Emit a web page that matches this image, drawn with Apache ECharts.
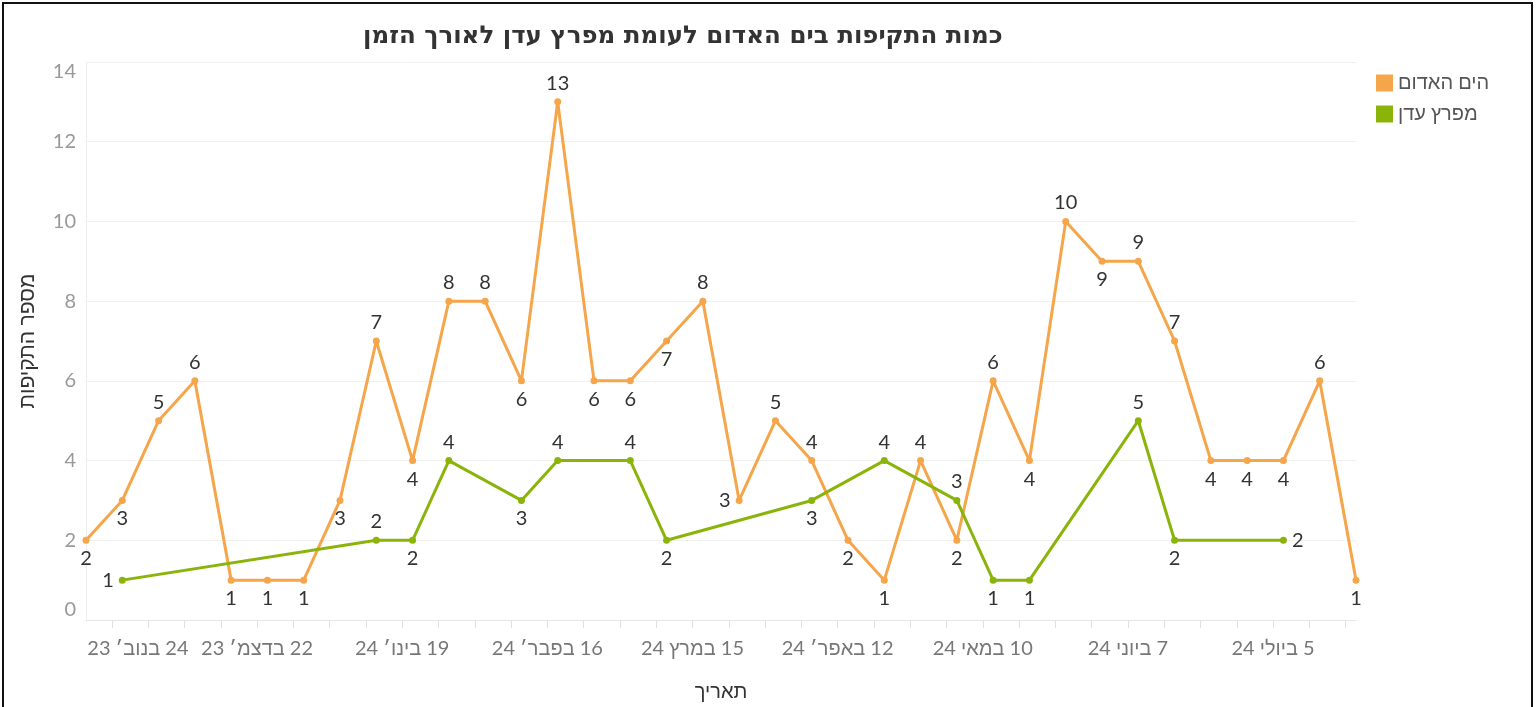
<!DOCTYPE html>
<html>
<head>
<meta charset="utf-8">
<script src="https://cdn.jsdelivr.net/npm/echarts@6/dist/echarts.min.js"></script>
<style>
  html, body { margin: 0; padding: 0; background: #fff; }
  #frame { position: absolute; left: 2px; top: 2px; width: 1531px; height: 720px; border: 2px solid #111; box-sizing: border-box; }
  #chart { position: absolute; left: 0; top: 0; width: 1537px; height: 707px; direction: rtl; }
</style>
</head>
<body>
<div id="chart"></div>
<div id="frame"></div>
<script>
// weekly buckets (week starts Sunday)
const weeks = [
  "2023-11-19", "2023-11-26", "2023-12-03", "2023-12-10", "2023-12-17", "2023-12-24",
  "2023-12-31", "2024-01-07", "2024-01-14", "2024-01-21", "2024-01-28", "2024-02-04",
  "2024-02-11", "2024-02-18", "2024-02-25", "2024-03-03", "2024-03-10", "2024-03-17",
  "2024-03-24", "2024-03-31", "2024-04-07", "2024-04-14", "2024-04-21", "2024-04-28",
  "2024-05-05", "2024-05-12", "2024-05-19", "2024-05-26", "2024-06-02", "2024-06-09",
  "2024-06-16", "2024-06-23", "2024-06-30", "2024-07-07", "2024-07-14", "2024-07-21",
]
const redSea = [2, 3, 5, 6, 1, 1, 1, 3, 7, 4, 8, 8, 6, 13, 6, 6, 7, 8, 3, 5, 4, 2, 1, 4, 2, 6, 4, 10, 9, 9, 7, 4, 4, 4, 6, 1]
const gulfAden = [null, 1, null, null, null, null, null, null, 2, 2, 4, null, 3, 4, null, 4, 2, null, null, null, 3, null, 4, null, 3, 1, 1, null, null, 5, 2, null, null, 2, null, null]

// where tableau put the mark labels
const redSeaLabelPos = ["bottom", "bottom", "top", "top", "bottom", "bottom", "bottom", "bottom", "top", "bottom", "top", "top",
  "bottom", "top", "bottom", "bottom", "bottom", "top", "left", "top", "top", "bottom", "bottom", "top",
  "bottom", "top", "bottom", "top", "bottom", "top", "top", "bottom", "bottom", "bottom", "top", "bottom"]
const gulfAdenLabelPos = [null, "left", null, null, null, null, null, null, "top", "bottom", "top", null,
  "bottom", "top", null, "top", "bottom", null, null, null, "bottom", null, "top", null,
  "top", "bottom", "bottom", null, null, "top", "bottom", null, null, "right", null, null]

const labelDays = ["2023-11-24", "2023-12-22", "2024-01-19", "2024-02-16", "2024-03-15", "2024-04-12", "2024-05-10", "2024-06-07", "2024-07-05"]
const labelTexts = ["24 בנוב׳ 23", "22 בדצמ׳ 23", "19 בינו׳ 24", "16 בפבר׳ 24", "15 במרץ 24", "12 באפר׳ 24", "10 במאי 24", "7 ביוני 24", "5 ביולי 24"]

const DAY = 86400000
const ts = (s) => {
  const [y, m, d] = s.split("-").map(Number)
  return Date.UTC(y, m - 1, d)
}

// weekly ticks fall on fridays
const tickDays = []
for (let t = ts("2023-11-24"); t <= ts("2024-07-21"); t += 7 * DAY) tickDays.push(t)

const labelMap = {}
labelDays.forEach((d, i) => (labelMap[ts(d)] = i))

const FONT = "Lato, 'Liberation Sans', 'DejaVu Sans', sans-serif"

const toData = (vals, pos) =>
  vals.map((v, i) =>
    v === null
      ? [ts(weeks[i]), null]
      : { value: [ts(weeks[i]), v], label: { position: pos[i] } }
  )

var chart = echarts.init(document.getElementById("chart"))
var option = {
  animation: false,
  textStyle: { fontFamily: FONT },
  title: {
    text: "כמות התקיפות בים האדום לעומת מפרץ עדן לאורך הזמן",
    left: 358,
    top: 19,
    textStyle: { fontSize: 24.5, fontWeight: "bold", color: "#333", fontFamily: "'DejaVu Sans', sans-serif" },
  },
  legend: {
    orient: "vertical",
    left: 1371,
    top: 68,
    icon: "rect",
    itemWidth: 17,
    itemHeight: 17,
    itemGap: 11,
    textStyle: { fontSize: 20, color: "#555", fontFamily: FONT },
  },
  grid: { left: 86, right: 181, top: 62, bottom: 85, containLabel: false },
  xAxis: {
    type: "value",
    min: ts(weeks[0]),
    max: ts(weeks[weeks.length - 1]),
    name: "תאריך",
    nameLocation: "middle",
    nameGap: 62,
    nameTextStyle: { fontSize: 20, color: "#333", fontFamily: FONT },
    splitLine: { show: false },
    axisLine: { show: true, lineStyle: { color: "#e6e6e6", width: 1 } },
    axisTick: { show: true, length: 8, customValues: tickDays, lineStyle: { color: "#e0e0e0" } },
    axisLabel: {
      customValues: labelDays.map(ts),
      margin: 19,
      fontSize: 20,
      color: "#777",
      fontFamily: FONT,
      formatter: (v) => {
        const i = labelMap[v]
        if (i === undefined) return ""
        return i === 0 ? "{a|" + labelTexts[i] + "}" : labelTexts[i]
      },
      rich: { a: { padding: [0, 0, 0, 52], fontSize: 20, color: "#777", fontFamily: FONT } },
    },
  },
  yAxis: {
    type: "value",
    min: 0,
    max: 14,
    interval: 2,
    name: "מספר התקיפות",
    nameLocation: "middle",
    nameGap: 48,
    nameRotate: 90,
    nameTextStyle: { fontSize: 21, color: "#333", fontFamily: FONT },
    axisLine: { show: true, lineStyle: { color: "#eeeeee" } },
    axisTick: { show: false },
    splitLine: { lineStyle: { color: "#f0f0f0", width: 1 } },
    axisLabel: {
      margin: 10,
      fontSize: 20,
      color: "#999",
      fontFamily: FONT,
      verticalAlignMinLabel: "bottom",
      verticalAlignMaxLabel: "top",
    },
  },
  series: [
    {
      name: "הים האדום",
      type: "line",
      data: toData(redSea, redSeaLabelPos),
      color: "#F5A54A",
      lineStyle: { width: 3 },
      symbol: "circle",
      symbolSize: 7,
      label: { show: true, fontSize: 20, color: "#333", distance: 5, fontFamily: FONT },
    },
    {
      name: "מפרץ עדן",
      type: "line",
      data: toData(gulfAden, gulfAdenLabelPos),
      connectNulls: true,
      color: "#8BB40A",
      lineStyle: { width: 3 },
      symbol: "circle",
      symbolSize: 7,
      label: { show: true, fontSize: 20, color: "#333", distance: 5, fontFamily: FONT },
    },
  ],
}
option && chart.setOption(option)
</script>
</body>
</html>
